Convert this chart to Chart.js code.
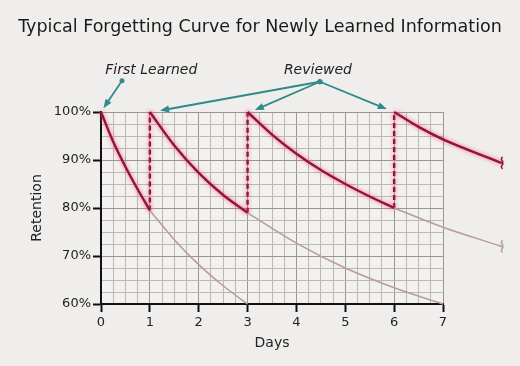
<!DOCTYPE html>
<html>
<head>
<meta charset="utf-8">
<script src="https://cdn.jsdelivr.net/npm/chart.js"></script>
<style>
  body { margin: 0; background: #efeeec; }
</style>
</head>
<body>
<canvas id="forgetChart" width="520" height="366"></canvas>
<script>
// values (days / retention %)
var learnDays = [0, 0.25, 0.5, 0.75, 1];
var learnRet = [100, 93.8, 88.6, 83.9, 79.5];
var learnFadeDays = [1, 1.5, 2, 2.5, 3];
var learnFadeRet = [79.5, 73.4, 68.2, 63.8, 60];

var review1Days = [1, 1.5, 2, 2.5, 3];
var review1Ret = [100, 93, 87.3, 82.7, 79];
var review1FadeDays = [3, 4, 5, 6, 7];
var review1FadeRet = [79, 72.7, 67.5, 63.4, 60];

var review2Days = [3, 3.5, 4, 4.5, 5, 5.5, 6];
var review2Ret = [100, 95.3, 91.3, 87.9, 85, 82.4, 80];
var review2FadeDays = [6, 7, 8.2];
var review2FadeRet = [80, 76, 72];

var review3Days = [6, 6.5, 7, 8.2];
var review3Ret = [100, 96.9, 94.3, 89.4];

var reviewDays = [1, 3, 6];
var reviewFrom = [79.5, 79, 80];

var dayTicks = [0, 1, 2, 3, 4, 5, 6, 7];
var retTicks = [60, 70, 80, 90, 100];

var noteLabels = ['First Learned', 'Reviewed'];

function pts(xs, ys) {
    var out = [];
    for (var i = 0; i < xs.length; i++) out.push({ x: xs[i], y: ys[i] });
    return out;
}

var RED = '#901639';
var FADE = '#b89aa2';
var TEAL = '#2f8a88';

var datasets = [];
function curve(xs, ys, strong) {
    datasets.push({
        data: pts(xs, ys),
        borderColor: strong ? RED : FADE,
        borderWidth: strong ? 2.4 : 1.5,
        cubicInterpolationMode: 'monotone',
        pointRadius: 0,
        clip: false,
        glow: strong,
        brokenEnd: xs[xs.length - 1] > 7
    });
}
curve(learnFadeDays, learnFadeRet, false);
curve(review1FadeDays, review1FadeRet, false);
curve(review2FadeDays, review2FadeRet, false);
curve(learnDays, learnRet, true);
curve(review1Days, review1Ret, true);
curve(review2Days, review2Ret, true);
curve(review3Days, review3Ret, true);
for (var i = 0; i < reviewDays.length; i++) {
    datasets.push({
        data: pts([reviewDays[i], reviewDays[i]], [reviewFrom[i], 100]),
        borderColor: RED,
        borderWidth: 2.4,
        borderDash: [5, 3],
        pointRadius: 0,
        clip: false,
        glow: true
    });
}

var glowPlugin = {
    id: 'glow',
    beforeDatasetDraw: function (chart, args) {
        var ctx = chart.ctx;
        ctx.save();
        if (args.meta._dataset.glow) {
            ctx.shadowColor = 'rgba(250, 85, 130, 0.95)';
            ctx.shadowBlur = 4;
        }
    },
    afterDatasetDraw: function (chart, args) {
        var ctx = chart.ctx;
        ctx.restore();
        var ds = args.meta._dataset;
        if (ds.brokenEnd) {
            var last = args.meta.data[args.meta.data.length - 1];
            ctx.save();
            ctx.strokeStyle = ds.borderColor;
            ctx.lineWidth = 1.5;
            ctx.beginPath();
            ctx.moveTo(last.x + 1, last.y - 6);
            ctx.bezierCurveTo(last.x - 3, last.y - 3, last.x + 4, last.y - 1, last.x, last.y);
            ctx.bezierCurveTo(last.x + 4, last.y + 1, last.x - 3, last.y + 3, last.x + 1, last.y + 6);
            ctx.stroke();
            ctx.restore();
        }
    }
};

var notePlugin = {
    id: 'notes',
    beforeDraw: function (chart) {
        var a = chart.chartArea, ctx = chart.ctx;
        ctx.save();
        ctx.fillStyle = '#f3f0f0';
        ctx.fillRect(a.left, a.top, a.right - a.left, a.bottom - a.top);
        ctx.restore();
    },
    afterDraw: function (chart) {
        var ctx = chart.ctx;
        var sx = chart.scales.x, sy = chart.scales.y;
        var textAt = [[1.03, 108.6], [4.44, 108.6]];
        var from = [[0.43, 106.5], [4.48, 106.3], [4.48, 106.3], [4.48, 106.3]];
        var to = [[0.05, 100.8], [1.21, 100.3], [3.15, 100.4], [5.85, 100.6]];

        ctx.save();
        ctx.font = 'italic 14px "DejaVu Sans"';
        ctx.fillStyle = '#222';
        ctx.textAlign = 'center';
        ctx.textBaseline = 'middle';
        for (var i = 0; i < noteLabels.length; i++) {
            ctx.fillText(noteLabels[i], sx.getPixelForValue(textAt[i][0]), sy.getPixelForValue(textAt[i][1]));
        }

        ctx.strokeStyle = TEAL;
        ctx.fillStyle = TEAL;
        ctx.lineWidth = 1.8;
        for (var j = 0; j < from.length; j++) {
            var x0 = sx.getPixelForValue(from[j][0]), y0 = sy.getPixelForValue(from[j][1]);
            var x1 = sx.getPixelForValue(to[j][0]), y1 = sy.getPixelForValue(to[j][1]);
            var ang = Math.atan2(y1 - y0, x1 - x0);
            ctx.beginPath();
            ctx.moveTo(x0, y0);
            ctx.lineTo(x1 - 6 * Math.cos(ang), y1 - 6 * Math.sin(ang));
            ctx.stroke();
            ctx.beginPath();
            ctx.moveTo(x1, y1);
            ctx.lineTo(x1 - 9 * Math.cos(ang) + 3.5 * Math.sin(ang), y1 - 9 * Math.sin(ang) - 3.5 * Math.cos(ang));
            ctx.lineTo(x1 - 9 * Math.cos(ang) - 3.5 * Math.sin(ang), y1 - 9 * Math.sin(ang) + 3.5 * Math.cos(ang));
            ctx.closePath();
            ctx.fill();
            ctx.beginPath();
            ctx.arc(x0, y0, 2.5, 0, Math.PI * 2);
            ctx.fill();
        }
        ctx.restore();
    }
};

Chart.defaults.font.family = '"DejaVu Sans"';
Chart.defaults.color = '#222';

var ctx = document.getElementById('forgetChart').getContext('2d');
var myChart = new Chart(ctx, {
    type: 'line',
    data: { datasets: datasets },
    plugins: [glowPlugin, notePlugin],
    options: {
        responsive: false,
        animation: false,
        layout: { padding: 0 },
        plugins: {
            legend: { display: false },
            tooltip: { enabled: false },
            title: {
                display: true,
                text: 'Typical Forgetting Curve for Newly Learned Information',
                font: { size: 17.5, weight: 'normal' },
                color: '#1a1a1a',
                padding: { top: 16.5, bottom: 74.5 }
            }
        },
        elements: { line: { capBezierPoints: false } },
        scales: {
            x: {
                type: 'linear',
                min: 0,
                // the axis stops at day 7 but the curves run on past it
                afterDataLimits: function (s) { s.max = 7; },
                afterFit: function (s) { s.height = 62; },
                ticks: {
                    stepSize: 0.25,
                    autoSkip: false,
                    maxRotation: 0,
                    padding: 3,
                    font: { size: 13 },
                    callback: function (v) { return dayTicks.indexOf(v) >= 0 ? String(v) : ''; }
                },
                grid: {
                    color: function (c) { return c.tick && c.tick.value % 1 === 0 ? '#9a9696' : '#bcb7b7'; },
                    tickColor: function (c) { return c.tick && c.tick.value % 1 === 0 ? '#111' : 'rgba(0,0,0,0)'; },
                    tickLength: 8,
                    tickWidth: 2
                },
                border: { color: '#111', width: 2 },
                title: {
                    display: true,
                    text: 'Days',
                    font: { size: 14 },
                    padding: { top: 0, bottom: 14.6 }
                }
            },
            y: {
                min: 60,
                max: 100,
                afterFit: function (s) { s.width = 101; },
                ticks: {
                    stepSize: 2.5,
                    autoSkip: false,
                    padding: 2,
                    font: { size: 13 },
                    callback: function (v) { return retTicks.indexOf(v) >= 0 ? v + '%' : ''; }
                },
                grid: {
                    color: function (c) { return c.tick && c.tick.value % 10 === 0 ? '#9a9696' : '#bcb7b7'; },
                    tickColor: function (c) { return c.tick && c.tick.value % 10 === 0 ? '#111' : 'rgba(0,0,0,0)'; },
                    tickLength: 8,
                    tickWidth: 2
                },
                border: { color: '#111', width: 2 },
                title: {
                    display: true,
                    text: 'Retention',
                    font: { size: 14 },
                    padding: { top: 28.6, bottom: 0 }
                }
            },
            // empty space on the right where the curves run past day 7
            gap: {
                type: 'linear',
                position: 'right',
                afterFit: function (s) { s.width = 77; },
                ticks: { display: false },
                grid: { display: false },
                border: { display: false }
            }
        }
    }
});
</script>
</body>
</html>
